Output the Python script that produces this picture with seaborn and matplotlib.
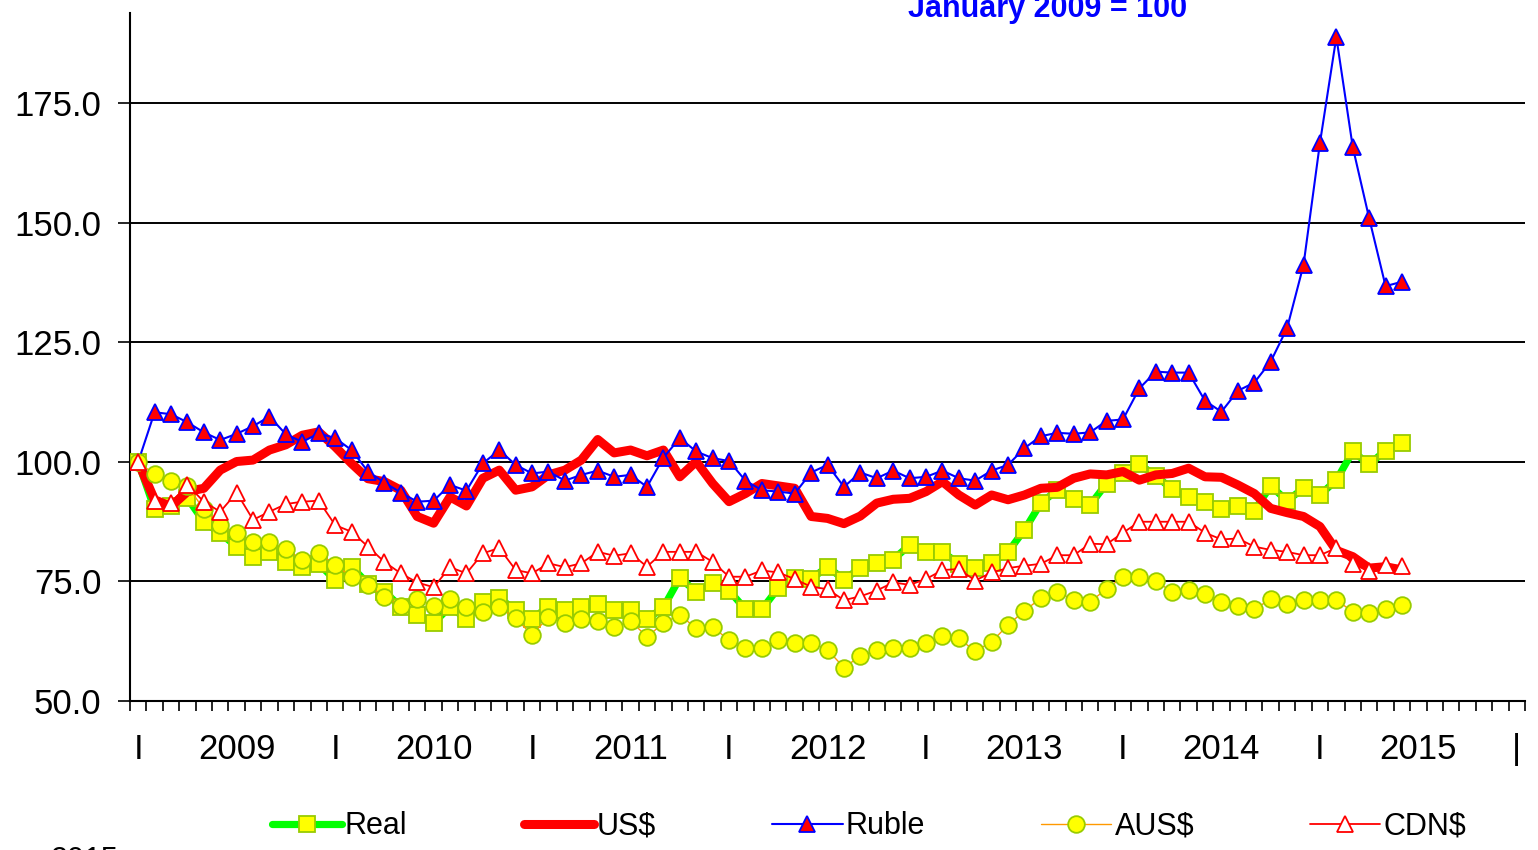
import numpy as np
import matplotlib
matplotlib.use("Agg")
import matplotlib.pyplot as plt
import seaborn as sns

# monthly index values, Jan 2009 = 100 (Jan 2009 .. Jun 2015)
real = [100, 90.1, 90.7, 92.4, 87.5, 85.1, 82.3, 80.2, 81.2, 79.1, 78.1, 78.7, 75.3, 78.1,
        74.5, 72.9, 69.7, 68.0, 66.3, 69.7, 67.2, 70.8, 71.5, 69.0, 67.2, 69.7, 69.0, 69.7,
        70.3, 69.0, 69.0, 67.1, 69.6, 75.7, 72.9, 74.6, 73.1, 69.2, 69.2, 73.6, 75.7, 75.5,
        78.1, 75.4, 77.8, 78.9, 79.6, 82.6, 81.2, 81.2, 78.7, 77.8, 78.9, 81.2, 85.8, 91.4,
        94.1, 92.2, 91.0, 95.5, 97.6, 99.5, 97.1, 94.3, 92.6, 91.7, 90.1, 90.7, 89.8, 95.0,
        91.9, 94.5, 93.1, 96.2, 102.2, 99.5, 102.4, 103.9]
usd = [100, 92.1, 90.7, 93.8, 94.5, 98.3, 100.1, 100.4, 102.5, 103.6, 105.6, 106.3, 103.2, 99.7,
       96.5, 95.9, 94.1, 88.6, 87.2, 92.7, 90.8, 96.6, 98.3, 94.1, 94.8, 97.3, 98.3, 100.4,
       104.7, 101.9, 102.5, 101.3, 102.5, 96.9, 100.1, 95.5, 91.7, 93.4, 95.5, 95.0, 94.5, 88.6,
       88.2, 87.1, 88.7, 91.4, 92.2, 92.4, 93.8, 95.9, 93.1, 91.0, 93.1, 92.1, 93.1, 94.5,
       94.7, 96.6, 97.5, 97.3, 98.0, 96.2, 97.3, 97.6, 98.7, 96.9, 96.8, 95.2, 93.4, 90.3,
       89.4, 88.6, 86.5, 81.5, 80.2, 77.8, 78.1, 77.4]
ruble = [100, 110.4, 110.0, 108.3, 106.2, 104.6, 105.9, 107.5, 109.5, 105.8, 104.2, 106.0, 105.0, 102.5,
         98.0, 95.7, 93.6, 91.7, 91.9, 95.2, 94.0, 99.7, 102.5, 99.4, 97.6, 98.0, 96.1, 97.3,
         98.2, 96.9, 97.3, 94.8, 100.9, 105.0, 102.2, 100.8, 100.2, 96.1, 94.1, 93.8, 93.4, 97.8,
         99.4, 94.8, 97.8, 96.6, 98.2, 96.6, 96.9, 98.2, 96.6, 96.1, 98.2, 99.4, 102.9, 105.4,
         106.1, 105.9, 106.2, 108.6, 108.9, 115.4, 118.9, 118.7, 118.7, 112.8, 110.5, 114.9, 116.6, 121.0,
         128.0, 141.2, 166.7, 188.9, 165.9, 151.0, 136.8, 137.7]
aus = [100, 97.4, 96.1, 95.0, 90.1, 86.8, 85.2, 83.3, 83.3, 81.7, 79.6, 81.0, 78.5, 76.0,
       74.3, 71.8, 69.9, 71.3, 69.9, 71.3, 69.6, 68.7, 69.6, 67.3, 63.8, 67.6, 66.3, 67.1,
       66.8, 65.4, 66.8, 63.4, 66.3, 68.0, 65.2, 65.4, 62.8, 61.0, 61.0, 62.8, 62.2, 62.2,
       60.7, 57.0, 59.4, 60.7, 61.0, 61.0, 62.2, 63.5, 63.1, 60.4, 62.4, 65.9, 68.9, 71.5,
       72.9, 71.1, 70.8, 73.4, 76.0, 75.9, 75.0, 72.9, 73.2, 72.4, 70.8, 69.9, 69.2, 71.3,
       70.3, 71.1, 71.1, 71.1, 68.7, 68.4, 69.2, 70.0]
cdn = [100, 91.9, 91.5, 95.2, 91.7, 89.6, 93.6, 87.9, 89.6, 91.2, 91.7, 91.9, 86.8, 85.4,
       82.3, 79.1, 76.7, 74.8, 73.8, 78.0, 76.7, 80.9, 82.0, 77.4, 76.7, 78.8, 78.0, 78.8,
       81.2, 80.4, 80.9, 78.1, 81.2, 81.2, 81.2, 79.1, 76.0, 76.0, 77.3, 76.9, 75.5, 73.9,
       73.4, 71.1, 71.9, 73.1, 74.8, 74.3, 75.5, 77.4, 77.6, 75.2, 76.9, 77.8, 78.3, 78.7,
       80.5, 80.5, 82.9, 82.8, 85.2, 87.5, 87.5, 87.5, 87.5, 85.2, 83.8, 84.0, 82.3, 81.6,
       81.2, 80.5, 80.5, 82.0, 78.7, 77.1, 78.5, 78.2]

years = ["2009", "2010", "2011", "2012", "2013", "2014", "2015"]
y_ticks = [50, 75, 100, 125, 150, 175]

sns.set_style("white")
plt.rcParams["font.family"] = ["Liberation Sans", "DejaVu Sans"]
plt.rcParams["text.color"] = "black"
plt.rcParams["xtick.color"] = "black"
plt.rcParams["ytick.color"] = "black"

fig = plt.figure(figsize=(15.38, 8.5), dpi=100)
ax = fig.add_axes([0.0845, 0.1753, 0.9071, 0.8098])

x = np.arange(len(real))

sns.lineplot(x=x, y=real, ax=ax, color="#00FF00", linewidth=5.2, marker="s",
             markersize=11, markerfacecolor="#FFFF00", markeredgecolor="#99CC00",
             markeredgewidth=1.3, label="Real", legend=False, zorder=3)
sns.lineplot(x=x, y=usd, ax=ax, color="#FF0000", linewidth=6.5, label="US$",
             legend=False, zorder=4)
sns.lineplot(x=x, y=ruble, ax=ax, color="#0000FF", linewidth=1.5, marker="^",
             markersize=11, markerfacecolor="#FF0000", markeredgecolor="#0000FF",
             markeredgewidth=1.3, label="Ruble", legend=False, zorder=5)
sns.lineplot(x=x, y=aus, ax=ax, color="#FF9900", linewidth=1.0, marker="o",
             markersize=12, markerfacecolor="#FFFF00", markeredgecolor="#99CC00",
             markeredgewidth=1.3, label="AUS$", legend=False, zorder=6)
sns.lineplot(x=x, y=cdn, ax=ax, color="#FF0000", linewidth=1.3, marker="^",
             markersize=11, markerfacecolor="white", markeredgecolor="#FF0000",
             markeredgewidth=1.3, label="CDN$", legend=False, zorder=7)

ax.set_xlabel("")
ax.set_ylabel("")
ax.set_xlim(-0.5, 84.5)
ax.set_ylim(50, 194)

# y axis
ax.set_yticks(y_ticks)
ax.set_yticklabels([f"{v:.1f}" for v in y_ticks])
ax.yaxis.grid(True, color="black", linewidth=1.4)
ax.set_axisbelow(True)
ax.tick_params(axis="y", direction="out", length=8.5, width=1.2, colors="black",
               labelsize=25, pad=12, left=True)

# x axis: month ticks, "I" at each January, year name mid-year
ticks = []
labels = []
for k, yr in enumerate(years):
    ticks += [12 * k, 12 * k + 6]
    labels += ["I", yr]
ticks.append(84)
labels.append("|")
ax.set_xticks(ticks)
ax.set_xticklabels(labels)
ax.set_xticks(np.arange(-0.5, 85, 1), minor=True)
ax.tick_params(axis="x", which="major", length=0, labelsize=25, pad=23, colors="black")
ax.tick_params(axis="x", which="minor", direction="out", length=7.5, width=1.2,
               colors="black", bottom=True)

for side in ["top", "right"]:
    ax.spines[side].set_visible(False)
for side in ["left", "bottom"]:
    ax.spines[side].set_color("black")
    ax.spines[side].set_linewidth(1.5)

handles, names = ax.get_legend_handles_labels()
leg = fig.legend(handles, names, loc="center", bbox_to_anchor=(0.565, 0.028), ncol=5,
                 frameon=False, handlelength=2.3, handletextpad=0.1, columnspacing=3.8,
                 fontsize=22, numpoints=1)
for t in leg.get_texts():
    t.set_color("black")

# title and source line sit partly outside the picture, as in the original crop
fig.text(1048 / 1538, 1 - 17 / 850, "January 2009 = 100", ha="center", va="baseline",
         color="#0000FF", fontweight="bold", fontsize=22)
fig.text(50 / 1538, 1 - 846 / 850, "2015", ha="left", va="top", fontsize=22, color="black")

fig.savefig("out.png", dpi=100)
